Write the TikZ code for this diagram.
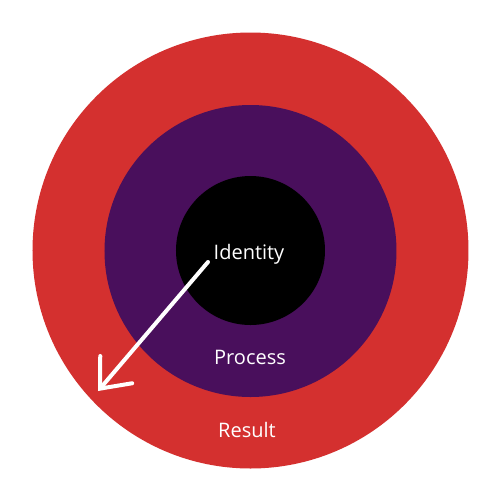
\documentclass[tikz,border=0pt]{standalone}
\usepackage{fontspec}
\setmainfont{Open Sans}
\usetikzlibrary{positioning,arrows.meta}
\definecolor{resultred}{RGB}{212,48,47}
\definecolor{processpurple}{RGB}{73,15,92}
\begin{document}
\begin{tikzpicture}[
  x=0.5pt, y=-0.5pt,
  ring/.style={
    circle,
    inner sep=0pt,
    draw=none
  },
  label/.style={
    text=white,
    font=\fontsize{10}{12}\selectfont,
    inner sep=0pt
  },
  flow/.style={-{Straight Barb[length=12.5pt, width=21pt, line cap=round]}, line width=2pt, white, line cap=round}
]
\useasboundingbox[fill=white] (0,0) rectangle (500,500);
\node[ring, fill=resultred, minimum size=218pt] (result) at (250.5,250.5) {};
\node[ring, fill=processpurple, minimum size=146pt] (process) at (250.5,251) {};
\node[ring, fill=black, minimum size=74.5pt] (identity) at (250.5,250.5) {};
\node[label] (identitytext) at (249,254) {Identity};
\node[label] (processtext) at (250,357) {Process};
\node[label] (resulttext) at (247,430) {Result};
\coordinate (start) at (208,262);
\coordinate (finish) at (98,391);
\draw[flow] (start) -- (finish);
\end{tikzpicture}
\end{document}
